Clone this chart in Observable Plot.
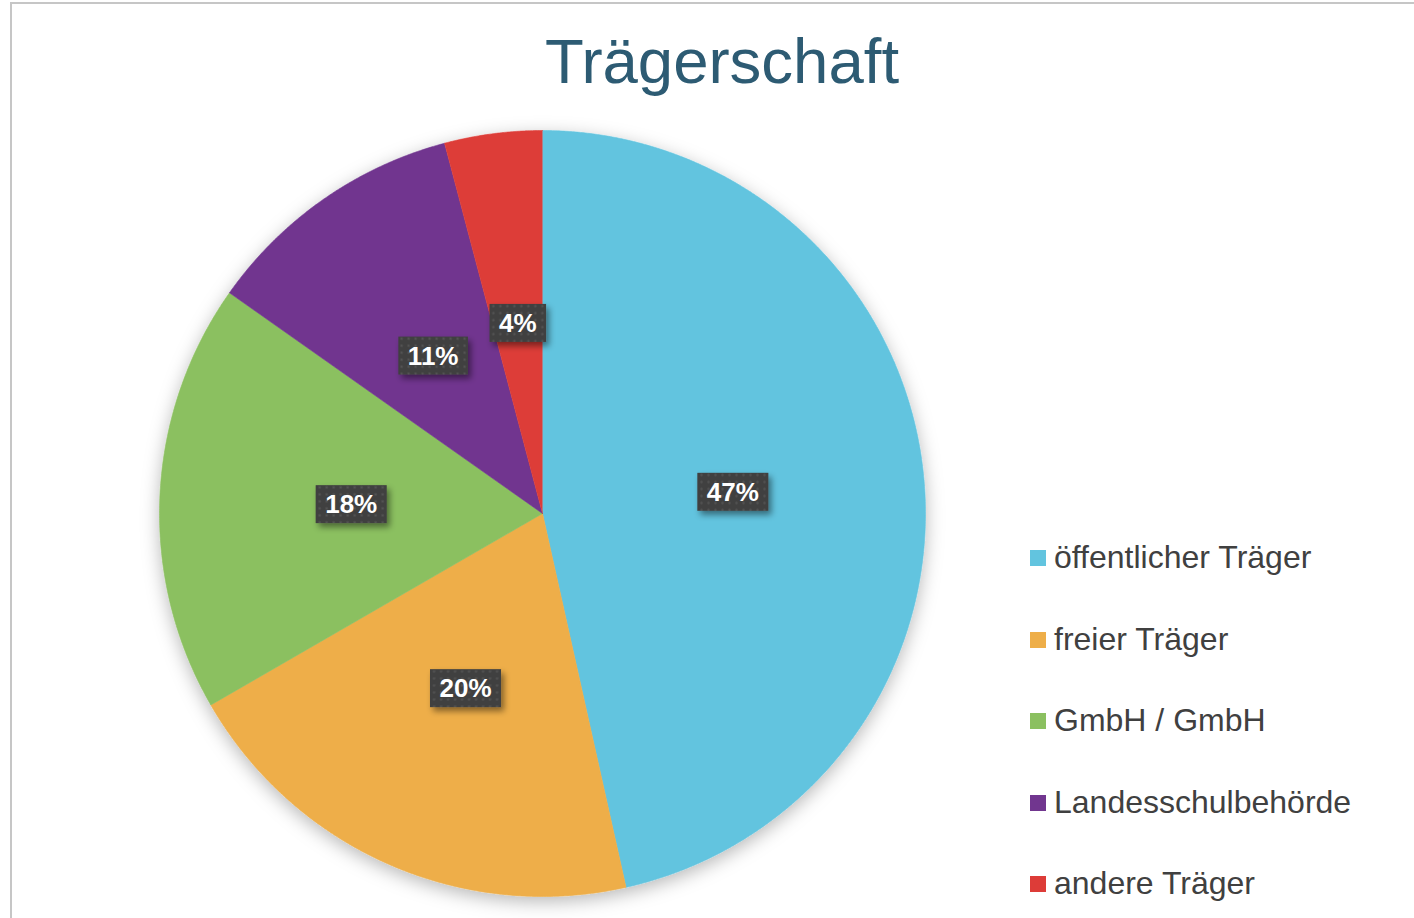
<!DOCTYPE html>
<html>
<head>
<meta charset="utf-8">
<script src="https://cdn.jsdelivr.net/npm/d3@7"></script>
<script src="https://cdn.jsdelivr.net/npm/@observablehq/plot@0.6"></script>
<style>
  html, body { margin: 0; padding: 0; background: #fff; overflow: hidden; }
  #wrap { position: relative; width: 1414px; height: 918px; font-family: "Liberation Sans", Arial, sans-serif; }
  #frame { position: absolute; left: 10px; top: 2px; width: 1420px; height: 930px; border-left: 2px solid #c6c6c6; border-top: 2px solid #c6c6c6; box-sizing: border-box; }
  #chart { position: absolute; left: 0; top: 0; }
  #title { position: absolute; left: 0; top: 29px; width: 1444px; text-align: center; font-size: 63.5px; line-height: 64px; color: #2d5b73; }
  #legend { position: absolute; left: 1030px; top: 517px; }
  .row { position: relative; height: 81.5px; line-height: 81px; font-size: 32px; color: #404040; white-space: nowrap; }
  .sw { position: absolute; left: 0; top: 33px; width: 16px; height: 16px; }
  .lt { position: absolute; left: 24px; top: 0; }
</style>
</head>
<body>
<div id="wrap">
  <div id="frame"></div>
  <div id="chart"></div>
  <div id="title">Trägerschaft</div>
  <div id="legend"></div>
</div>
<script>
// Data
const categories = ["öffentlicher Träger", "freier Träger", "GmbH / GmbH", "Landesschulbehörde", "andere Träger"];
const counts = [113, 49, 44, 27, 10];
const colors = ["#62c4df", "#eeae48", "#8bc060", "#71368f", "#dd3c38"];

const total = d3.sum(counts);
const arcs = d3.pie().sort(null).value(d => d)(counts);

// slice outlines (unit circle, y up)
const slicePts = [];
arcs.forEach((a, i) => {
  const key = categories[i];
  slicePts.push({key, x: 0, y: 0});
  const n = Math.max(4, Math.ceil((a.endAngle - a.startAngle) / (Math.PI / 720)));
  for (let k = 0; k <= n; k++) {
    const t = a.startAngle + (a.endAngle - a.startAngle) * k / n;
    slicePts.push({key, x: Math.sin(t), y: Math.cos(t)});
  }
});

const labelPts = arcs.map((a, i) => {
  const m = (a.startAngle + a.endAngle) / 2;
  return {key: categories[i], x: 0.5 * Math.sin(m), y: 0.5 * Math.cos(m),
          text: Math.round(counts[i] / total * 100) + "%"};
});

const plot = Plot.plot({
  width: 1414,
  height: 918,
  margin: 0,
  style: {background: "transparent", fontFamily: "Liberation Sans, Arial, sans-serif"},
  x: {domain: [-1, 1], range: [159, 925], axis: null},
  y: {domain: [-1, 1], range: [896, 130], axis: null},
  color: {domain: categories, range: colors},
  marks: [
    Plot.line(slicePts, {x: "x", y: "y", z: "key", fill: "key", stroke: "key", strokeWidth: 0.6, curve: "linear"}),
    Plot.text(labelPts, {x: "x", y: "y", text: "text", fill: "white", fontWeight: "bold", fontSize: 26})
  ]
});
document.getElementById("chart").appendChild(plot);

// decorations: shadow + label boxes
const svg = d3.select(plot);
const defs = svg.insert("defs", ":first-child");
const f1 = defs.append("filter").attr("id", "pieShadow").attr("x", "-20%").attr("y", "-20%").attr("width", "140%").attr("height", "140%");
f1.append("feDropShadow").attr("dx", 0).attr("dy", 5).attr("stdDeviation", 9).attr("flood-color", "#000").attr("flood-opacity", 0.28);
const f2 = defs.append("filter").attr("id", "boxShadow").attr("x", "-30%").attr("y", "-30%").attr("width", "160%").attr("height", "160%");
f2.append("feDropShadow").attr("dx", 3).attr("dy", 4).attr("stdDeviation", 3).attr("flood-color", "#000").attr("flood-opacity", 0.45);
const pat = defs.append("pattern").attr("id", "dots").attr("patternUnits", "userSpaceOnUse").attr("width", 7).attr("height", 7);
pat.append("rect").attr("width", 7).attr("height", 7).attr("fill", "#404040");
pat.append("rect").attr("x", 2.5).attr("y", 2.5).attr("width", 2).attr("height", 2).attr("fill", "#575757");

svg.selectAll('g[aria-label="line"]').attr("filter", "url(#pieShadow)");
svg.selectAll('g[aria-label="text"]').each(function () {
  const g = this;
  const texts = Array.from(g.querySelectorAll("text"));
  texts.forEach(t => {
    const b = t.getBBox();
    const cy = b.y + b.height / 2;
    const r = document.createElementNS("http://www.w3.org/2000/svg", "rect");
    const tr = t.getAttribute("transform");
    if (tr) r.setAttribute("transform", tr);
    r.setAttribute("x", b.x - 9.5);
    r.setAttribute("y", cy - 19);
    r.setAttribute("width", b.width + 19);
    r.setAttribute("height", 38);
    r.setAttribute("fill", "url(#dots)");
    r.setAttribute("filter", "url(#boxShadow)");
    g.insertBefore(r, g.firstChild);
  });
});

// legend
const legend = d3.select("#legend");
categories.forEach((c, i) => {
  const row = legend.append("div").attr("class", "row");
  row.append("span").attr("class", "sw").style("background", colors[i]);
  row.append("span").attr("class", "lt").text(c);
});
</script>
</body>
</html>
